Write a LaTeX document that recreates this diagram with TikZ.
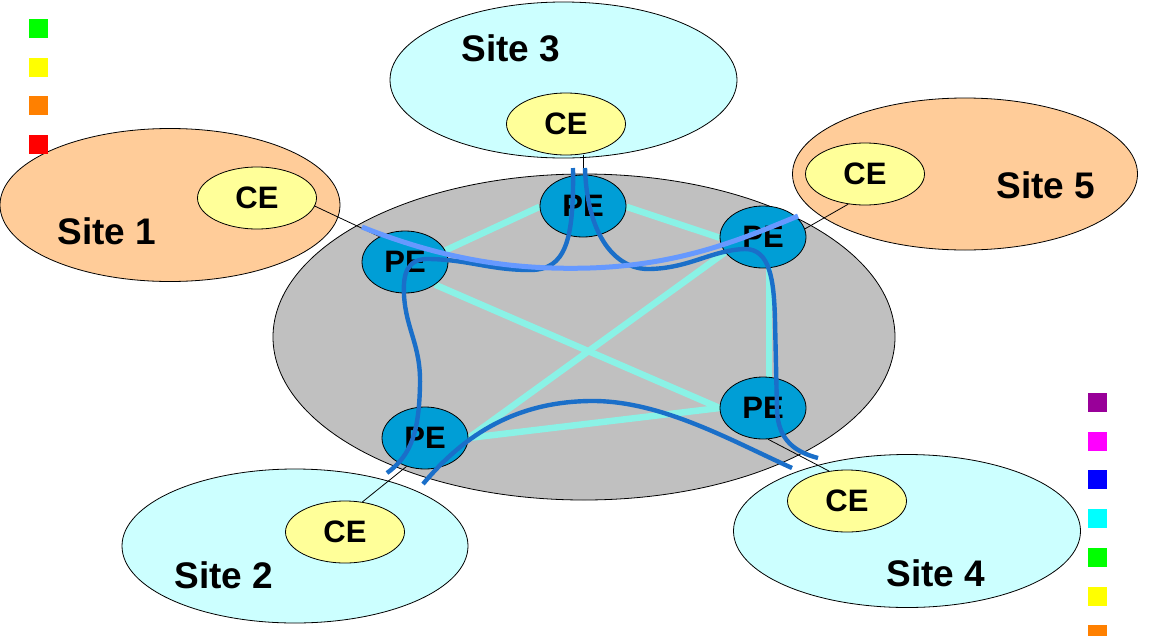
\documentclass[tikz,border=0pt]{standalone}
\usepackage{fontspec}
\setmainfont{Liberation Sans}
\usetikzlibrary{shapes.geometric}
\definecolor{sitecyan}{HTML}{CCFFFF}
\definecolor{siteorange}{HTML}{FFCC99}
\definecolor{cefill}{HTML}{FFFF99}
\definecolor{pefill}{HTML}{009ED6}
\definecolor{coregray}{HTML}{C0C0C0}
\definecolor{linkcyan}{HTML}{8AF2E6}
\definecolor{tunnel}{HTML}{1A6FC9}
\definecolor{tunnellight}{HTML}{6699FF}
\definecolor{sqpurple}{HTML}{990099}
\definecolor{sqorange}{HTML}{FF8000}
\definecolor{sqmagenta}{HTML}{FF00FF}
\definecolor{sqcyan}{HTML}{00FFFF}
\definecolor{sqgreen}{HTML}{00FF00}
\definecolor{sqyellow}{HTML}{FFFF00}
\definecolor{sqred}{HTML}{FF0000}
\definecolor{sqblue}{HTML}{0000FF}
\pgfdeclarelayer{back}
\pgfdeclarelayer{mid}
\pgfsetlayers{back,mid,main}
\begin{document}
\begin{tikzpicture}[x=1pt,y=-1pt,
  site/.style={ellipse, draw=black, line width=0.8pt, inner sep=0pt},
  ce/.style={ellipse, draw=black, line width=0.8pt, fill=cefill, minimum width=119pt, minimum height=62pt, inner sep=0pt, font=\bfseries\fontsize{31pt}{31pt}\selectfont},
  pe/.style={ellipse, draw=black, line width=0.8pt, fill=pefill, minimum width=86pt, minimum height=62pt, inner sep=0pt, font=\bfseries\fontsize{31pt}{31pt}\selectfont},
  sitelabel/.style={inner sep=0pt, font=\bfseries\fontsize{37pt}{37pt}\selectfont},
  link/.style={linkcyan, line width=6.5pt},
  thinline/.style={black, line width=0.8pt},
  tunnelpath/.style={tunnel, line width=4.4pt},
  lighttunnel/.style={tunnellight, line width=5pt},
  sq/.style={inner sep=0pt, minimum size=19pt}
]
\useasboundingbox (0,0) rectangle (1149,635);

% colour squares
\node[sq, fill=sqgreen] (sqL1) at (38.5,28.5) {};
\node[sq, fill=sqyellow] (sqL2) at (38.5,67) {};
\node[sq, fill=sqorange] (sqL3) at (38.5,105.5) {};
\node[sq, fill=sqred] (sqL4) at (38.5,144.5) {};
\node[sq, fill=sqpurple] (sqR1) at (1097.5,402.5) {};
\node[sq, fill=sqmagenta] (sqR2) at (1097.5,441.5) {};
\node[sq, fill=sqblue] (sqR3) at (1097.5,479.5) {};
\node[sq, fill=sqcyan] (sqR4) at (1097.5,518.5) {};
\node[sq, fill=sqgreen] (sqR5) at (1097.5,557.5) {};
\node[sq, fill=sqyellow] (sqR6) at (1097.5,596) {};
\node[sq, fill=sqorange] (sqR7) at (1097.5,634.5) {};

\begin{pgfonlayer}{back}
% core network
\node[site, fill=coregray, minimum width=622pt, minimum height=326pt] (core) at (584,337) {};
% sites
\node[site, fill=siteorange, minimum width=340pt, minimum height=153pt] (S1) at (170,205) {};
\node[site, fill=sitecyan, minimum width=346pt, minimum height=154pt] (S2) at (295,546) {};
\node[site, fill=sitecyan, minimum width=347pt, minimum height=156pt] (S3) at (563.5,80) {};
\node[site, fill=sitecyan, minimum width=347pt, minimum height=153pt] (S4) at (907,531) {};
\node[site, fill=siteorange, minimum width=345pt, minimum height=152pt] (S5) at (965,174) {};
\node[sitelabel] (L1) at (107,231) {Site 1};
\node[sitelabel] (L2) at (224,575) {Site 2};
\node[sitelabel] (L3) at (511,48) {Site 3};
\node[sitelabel] (L4) at (936,573) {Site 4};
\node[sitelabel] (L5) at (1046,185) {Site 5};
% CE routers
\node[ce] (CE1) at (257,198) {CE};
\node[ce] (CE2) at (345,532) {CE};
\node[ce] (CE3) at (566,124) {CE};
\node[ce] (CE4) at (847,501) {CE};
\node[ce] (CE5) at (865,174) {CE};
\end{pgfonlayer}

% PE routers
\node[pe] (PEt) at (583,206) {PE};
\node[pe] (PEl) at (405,262) {PE};
\node[pe] (PEr) at (763,237) {PE};
\node[pe] (PEbr) at (763,408) {PE};
\node[pe] (PEbl) at (425,438) {PE};

\begin{pgfonlayer}{mid}
% access lines
\draw[thinline] (CE1.-8) -- (PEl.135);
\draw[thinline] (CE2.60) -- (PEbl.237);
\draw[thinline] (PEt.north) -- (PEt.north |- CE3.south);
\draw[thinline] (CE4.121) -- (PEbr.-81);
\draw[thinline] (CE5.241) -- (PEr.11);
% backbone links
\draw[link] (PEl.16) -- (PEt.181);
\draw[link] (PEt.-1) -- (PEr.181);
\draw[link] (PEl.-37) -- (PEbr.180);
\draw[link] (PEr.202) -- (PEbl.0);
\draw[link] (PEbl.0) -- (PEbr.180);
\draw[link] (PEr.-79) -- (PEbr.79);
\end{pgfonlayer}

% tunnels
\coordinate (a1) at (573,168);
\coordinate (a2) at (387,473);
\coordinate (b1) at (585,168);
\coordinate (b2) at (818,458);
\coordinate (c1) at (423,484);
\coordinate (c2) at (792,468);
\coordinate (l1) at (362,227);
\coordinate (l2) at (798,216);
\draw[tunnelpath] (a1) .. controls (574,240) and (566,270) .. (530,270)
  .. controls (490,270) and (470,260) .. (430,259)
  .. controls (406,258) and (403,275) .. (404,295)
  .. controls (406,330) and (421,345) .. (420,385)
  .. controls (419,430) and (412,455) .. (a2);
\draw[tunnelpath] (b1) .. controls (587,235) and (615,270) .. (650,269)
  .. controls (690,268) and (712,250) .. (745,249)
  .. controls (770,249) and (774,280) .. (775,320)
  -- (777,410) .. controls (778,440) and (795,452) .. (b2);
\draw[tunnelpath] (c1) .. controls (460,440) and (510,402) .. (590,401)
  .. controls (660,400) and (730,440) .. (c2);
\draw[lighttunnel] (l1) .. controls (450,262) and (520,270) .. (590,268)
  .. controls (680,265) and (740,240) .. (l2);
\end{tikzpicture}
\end{document}
